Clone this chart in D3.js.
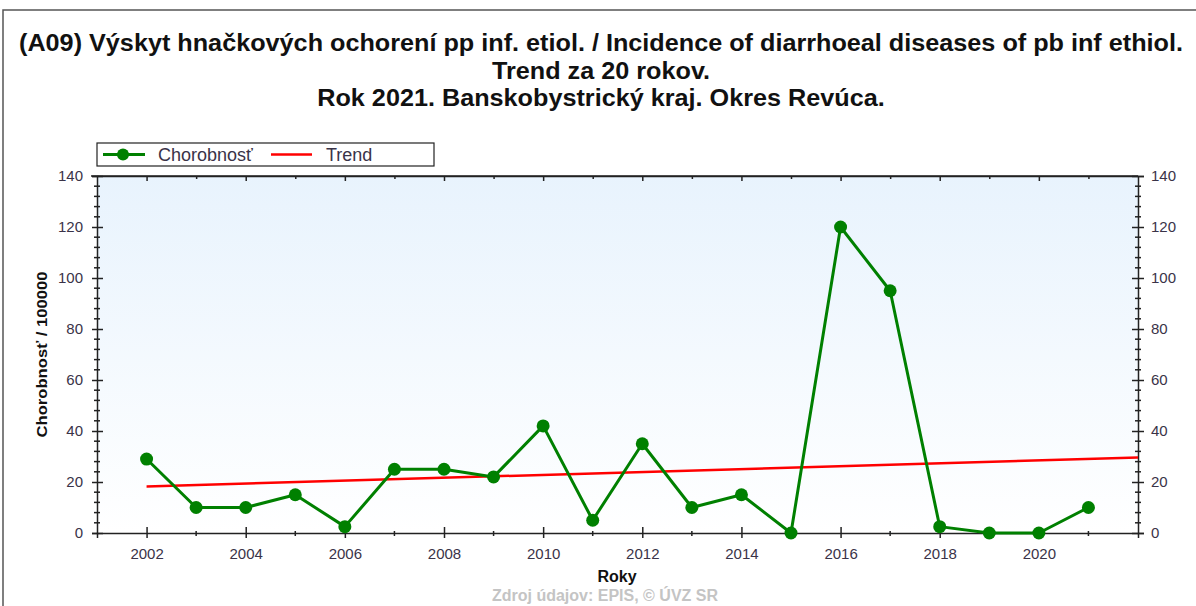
<!DOCTYPE html>
<html>
<head>
<meta charset="utf-8">
<script src="https://cdn.jsdelivr.net/npm/d3@7"></script>
<style>
  html, body { margin: 0; padding: 0; background: #fff; }
  svg { display: block; font-family: "Liberation Sans", Arial, sans-serif; }
</style>
</head>
<body>
<svg id="chart" width="1196" height="606"></svg>
<script>
// Incidence per 100 000, Okres Revúca, 2002–2021
const years = [2002, 2003, 2004, 2005, 2006, 2007, 2008, 2009, 2010, 2011,
               2012, 2013, 2014, 2015, 2016, 2017, 2018, 2019, 2020, 2021];
const incidence = [29, 10, 10, 15, 2.5, 25, 25, 22, 42, 5,
                   35, 10, 15, 0, 120, 95, 2.5, 0, 0, 10];
const xTickYears = [2002, 2004, 2006, 2008, 2010, 2012, 2014, 2016, 2018, 2020];
const yTicks = [0, 20, 40, 60, 80, 100, 120, 140];
const titleLines = [
  "(A09) Výskyt hnačkových ochorení pp inf. etiol. / Incidence of diarrhoeal diseases of pb inf ethiol.",
  "Trend za 20 rokov.",
  "Rok 2021. Banskobystrický kraj. Okres Revúca."
];
const legendLabels = ["Chorobnosť", "Trend"];

const svg = d3.select("#chart");
const plot = { left: 97, right: 1138, top: 176, bottom: 533 };

const x = d3.scaleLinear().domain([2001, 2022]).range([plot.left, plot.right]);
const y = d3.scaleLinear().domain([0, 140]).range([plot.bottom, plot.top]);

// Least-squares trend over the plotted years, extended to the right edge
const mx = d3.mean(years), my = d3.mean(incidence);
const slope = d3.sum(years, (v, i) => (v - mx) * (incidence[i] - my)) /
              d3.sum(years, v => (v - mx) ** 2);
const trendAt = yr => my + slope * (yr - mx);
const trendYears = [years[0], 2022];

// outer frame
svg.append("rect").attr("x", 3).attr("y", 10).attr("width", 1220).attr("height", 700)
  .attr("fill", "none").attr("stroke", "#555").attr("stroke-width", 1.5);

// title: three centred lines, fitted uniformly so the first spans the frame
const titleWidth = 1164;
const titleTexts = titleLines.map((t, i) =>
  svg.append("text").attr("x", 601).attr("y", 51 + i * 27.5)
    .attr("text-anchor", "middle").attr("font-size", 23).attr("font-weight", "bold")
    .attr("fill", "#111").text(t));
const stretch = titleWidth / titleTexts[0].node().getComputedTextLength();
titleTexts.forEach(t => {
  t.attr("textLength", t.node().getComputedTextLength() * stretch)
   .attr("lengthAdjust", "spacingAndGlyphs");
});

// plot background gradient
const defs = svg.append("defs");
const grad = defs.append("linearGradient").attr("id", "bg")
  .attr("x1", 0).attr("y1", 0).attr("x2", 0).attr("y2", 1);
grad.append("stop").attr("offset", "0%").attr("stop-color", "#e8f3fd");
grad.append("stop").attr("offset", "100%").attr("stop-color", "#ffffff");
svg.append("rect")
  .attr("x", plot.left).attr("y", plot.top)
  .attr("width", plot.right - plot.left).attr("height", plot.bottom - plot.top)
  .attr("fill", "url(#bg)");

// axes
const axisColor = "#222";
const labelColor = "#3a3348";
const minorY = d3.range(0, 141, 4).filter(v => v % 20 !== 0);
const allYears = d3.range(2002, 2022);

const bottomAxis = svg.append("g").attr("transform", `translate(0,${plot.bottom})`)
  .call(d3.axisBottom(x).tickValues(xTickYears).tickFormat(d3.format("d")).tickSize(5).tickPadding(10));
bottomAxis.selectAll(".tick line").attr("y1", -6);
bottomAxis.append("g").selectAll("line")
  .data(allYears.filter(v => v % 2 === 1)).join("line")
  .attr("x1", d => x(d)).attr("x2", d => x(d)).attr("y1", -2).attr("y2", 3);

const topAxis = svg.append("g").attr("transform", `translate(0,${plot.top})`)
  .call(d3.axisTop(x).tickValues(allYears).tickFormat("").tickSize(0));
topAxis.selectAll(".tick line").attr("y1", 0).attr("y2", d => d % 2 === 0 ? 5 : 3);

const leftAxis = svg.append("g").attr("transform", `translate(${plot.left},0)`)
  .call(d3.axisLeft(y).tickValues(yTicks).tickSize(5).tickPadding(9));
leftAxis.selectAll(".tick line").attr("x1", 6);
leftAxis.append("g").selectAll("line").data(minorY).join("line")
  .attr("x1", -3).attr("x2", 3).attr("y1", d => y(d)).attr("y2", d => y(d));

const rightAxis = svg.append("g").attr("transform", `translate(${plot.right},0)`)
  .call(d3.axisRight(y).tickValues(yTicks).tickSize(6).tickPadding(7));
rightAxis.selectAll(".tick line").attr("x1", -6);
rightAxis.append("g").selectAll("line").data(minorY).join("line")
  .attr("x1", -3).attr("x2", 3).attr("y1", d => y(d)).attr("y2", d => y(d));

[bottomAxis, topAxis, leftAxis, rightAxis].forEach(g => {
  g.select(".domain").attr("stroke", axisColor).attr("stroke-width", 1.5);
  g.selectAll("line").attr("stroke", axisColor).attr("stroke-width", 1.5);
  g.selectAll(".tick text").attr("font-size", 15).attr("fill", labelColor)
    .attr("font-family", "'Liberation Sans', Arial, sans-serif");
});
// the plot's top edge reaches out past the left axis, as the 140 tick
svg.append("line").attr("x1", plot.left - 6).attr("x2", plot.right)
  .attr("y1", plot.top).attr("y2", plot.top).attr("stroke", axisColor).attr("stroke-width", 1.5);

// axis titles
svg.append("text").attr("transform", `translate(47,${(plot.top + plot.bottom) / 2}) rotate(-90)`)
  .attr("text-anchor", "middle").attr("font-size", 15).attr("font-weight", "bold")
  .attr("textLength", 166).attr("lengthAdjust", "spacingAndGlyphs")
  .attr("fill", "#111").text("Chorobnosť / 100000");
svg.append("text").attr("x", 617).attr("y", 582).attr("text-anchor", "middle")
  .attr("font-size", 16).attr("font-weight", "bold").attr("fill", "#111").text("Roky");

// trend line
svg.append("path")
  .datum(trendYears)
  .attr("d", d3.line().x(d => x(d)).y(d => y(trendAt(d))))
  .attr("fill", "none").attr("stroke", "#ff0000").attr("stroke-width", 2.5);

// incidence series
const green = "#008000";
svg.append("path")
  .datum(years)
  .attr("d", d3.line().x(d => x(d)).y((d, i) => y(incidence[i])))
  .attr("fill", "none").attr("stroke", green).attr("stroke-width", 3)
  .attr("stroke-linejoin", "round");
svg.append("g").selectAll("circle").data(years).join("circle")
  .attr("cx", d => x(d)).attr("cy", (d, i) => y(incidence[i]))
  .attr("r", 6.5).attr("fill", green);

// legend
const lg = svg.append("g");
lg.append("rect").attr("x", 97).attr("y", 143).attr("width", 337).attr("height", 23)
  .attr("fill", "#fff").attr("stroke", "#222").attr("stroke-width", 1.2);
lg.append("line").attr("x1", 103).attr("x2", 145).attr("y1", 154.5).attr("y2", 154.5)
  .attr("stroke", green).attr("stroke-width", 3);
lg.append("circle").attr("cx", 123).attr("cy", 154.5).attr("r", 6).attr("fill", green);
lg.append("text").attr("x", 158).attr("y", 161).attr("font-size", 18)
  .attr("fill", labelColor).text(legendLabels[0]);
lg.append("line").attr("x1", 271).attr("x2", 312).attr("y1", 154.5).attr("y2", 154.5)
  .attr("stroke", "#ff0000").attr("stroke-width", 2.5);
lg.append("text").attr("x", 326).attr("y", 161).attr("font-size", 18)
  .attr("fill", labelColor).text(legendLabels[1]);

// source note
svg.append("text").attr("x", 605).attr("y", 601).attr("text-anchor", "middle")
  .attr("font-size", 16).attr("font-weight", "bold").attr("fill", "#c4c4c4")
  .text("Zdroj údajov: EPIS, © ÚVZ SR");
</script>
</body>
</html>
